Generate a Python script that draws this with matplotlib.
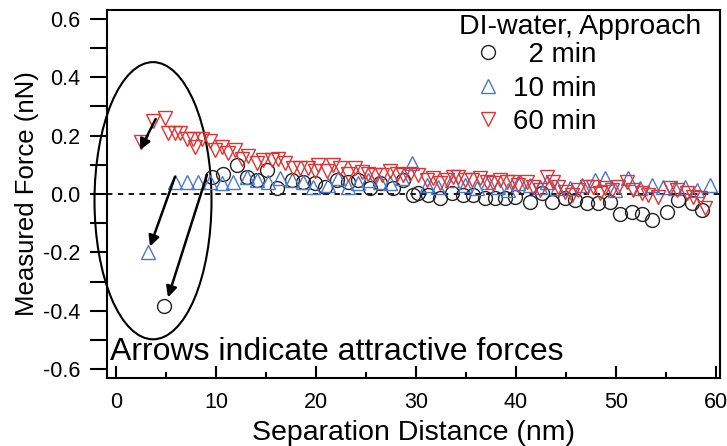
import matplotlib
matplotlib.use("Agg")
import matplotlib.pyplot as plt
from matplotlib.patches import Ellipse

plt.rcParams['font.family'] = ['Liberation Sans', 'DejaVu Sans']
plt.rcParams['axes.unicode_minus'] = False

# 2 min (circles)
x_2min = [4.8, 9.6, 10.7, 12.1, 13.1, 14.1, 15.1, 16.1, 17.6, 18.7, 19.9, 20.9, 22.1,
          23.2, 24.2, 25.4, 26.4, 27.7, 28.7, 29.7, 30.2, 31.2, 32.4, 33.6, 34.7, 35.7,
          36.9, 37.9, 38.9, 39.9, 41.4, 42.6, 43.6, 44.9, 45.9, 47.1, 48.2, 49.4, 50.4,
          51.6, 52.6, 53.6, 55.1, 56.2, 57.6, 58.6]
y_2min = [-0.385, 0.058, 0.07, 0.1, 0.058, 0.048, 0.082, 0.02, 0.048, 0.04, 0.037, 0.025,
          0.048, 0.04, 0.048, 0.02, 0.037, 0.02, 0.048, -0.003, 0.003, -0.003, -0.013,
          0.003, -0.003, -0.003, -0.013, -0.013, -0.013, -0.01, -0.027, 0.003, -0.027,
          -0.013, -0.02, -0.03, -0.03, -0.027, -0.07, -0.06, -0.07, -0.09, -0.06, -0.02,
          -0.03, -0.055]

# 10 min (up triangles)
x_10min = [3.2, 5.9, 7.1, 8.2, 9.4, 10.6, 11.7, 13.1, 14.1, 15.2, 16.4, 17.6, 18.7, 19.7,
           21.2, 22.2, 23.2, 24.2, 25.2, 26.4, 27.4, 28.6, 29.6, 31.1, 32.2, 33.6, 34.9,
           36.1, 37.2, 38.2, 39.2, 40.2, 41.4, 42.4, 43.1, 44.1, 45.4, 46.6, 47.9, 48.9,
           49.9, 51.2, 52.4, 53.6, 54.7, 55.9, 56.9, 58.1, 59.4]
y_10min = [-0.197, 0.04, 0.04, 0.04, 0.04, 0.037, 0.04, 0.058, 0.048, 0.04, 0.055, 0.048,
           0.04, 0.025, 0.03, 0.055, 0.025, 0.037, 0.048, 0.04, 0.037, 0.055, 0.105, 0.03,
           0.025, 0.048, 0.03, 0.02, 0.04, 0.025, 0.014, 0.037, 0.03, 0.025, 0.04, 0.02,
           0.02, 0.03, 0.048, 0.055, 0.014, 0.055, 0.02, 0.03, 0.025, 0.02, 0.025, 0.014,
           0.03]

# 60 min (down triangles)
x_60min = [2.5, 3.7, 4.9, 5.2, 5.9, 6.4, 7.1, 7.7, 7.9, 8.6, 9.4, 9.9, 10.6, 11.2, 11.9,
           12.6, 13.2, 14.1, 14.7, 15.6, 16.2, 16.9, 17.7, 18.4, 19.2, 19.9, 20.2, 21.1,
           21.7, 22.4, 23.2, 23.9, 24.6, 25.2, 25.9, 26.6, 27.4, 28.1, 28.7, 29.4, 30.2,
           31.1, 31.7, 32.4, 33.1, 33.7, 34.2, 34.9, 35.6, 36.4, 37.1, 37.7, 38.4, 39.1,
           39.7, 40.2, 41.1, 41.7, 42.4, 43.1, 43.7, 44.2, 44.9, 45.6, 46.2, 47.1, 47.7,
           48.4, 48.9, 49.6, 50.2, 51.1, 51.7, 52.6, 53.2, 54.2, 55.4, 56.1, 57.1, 57.7,
           58.4, 58.9]
y_60min = [0.178, 0.25, 0.26, 0.21, 0.21, 0.21, 0.19, 0.19, 0.16, 0.19, 0.18, 0.15, 0.16,
           0.14, 0.15, 0.12, 0.13, 0.105, 0.115, 0.115, 0.12, 0.105, 0.09, 0.09, 0.09, 0.08,
           0.1, 0.08, 0.1, 0.09, 0.07, 0.09, 0.075, 0.07, 0.065, 0.065, 0.08, 0.07, 0.065,
           0.07, 0.065, 0.048, 0.055, 0.037, 0.048, 0.058, 0.058, 0.048, 0.048, 0.055, 0.04,
           0.037, 0.048, 0.04, 0.04, 0.03, 0.04, 0.025, 0.014, 0.058, 0.04, 0.025, 0.007,
           -0.003, 0.014, 0.025, 0.025, 0.003, 0.02, 0.014, 0.025, 0.04, 0.014, 0.003,
           -0.003, -0.01, 0.02, 0.014, 0.003, -0.01, -0.013, -0.047]

# arrows: (start, end) pointing at the attractive points
arrows = [((3.97, 0.257), (2.4, 0.151)),
          ((5.9, 0.059), (3.4, -0.18)),
          ((9.1, 0.066), (5.2, -0.354))]

fig = plt.figure(figsize=(7.27, 4.46), dpi=100)
ax = fig.add_axes([107/727, 1 - 378/446, (720 - 107)/727, (378 - 10)/446])

ax.axhline(0, color='black', lw=1.3, ls=(0, (3, 3)), zorder=1)

ax.plot(x_2min, y_2min, ls='none', marker='o', ms=10, mfc='none', mec='#222222',
        mew=1.0, label='  2 min')
ax.plot(x_10min, y_10min, ls='none', marker='^', ms=10.5, mfc='none', mec='#4a78cf',
        mew=1.0, label='10 min')
ax.plot(x_60min, y_60min, ls='none', marker='v', ms=10.5, mfc='none', mec='#dd3333',
        mew=1.0, label='60 min')

for start, end in arrows:
    ax.annotate('', xy=end, xytext=start,
                arrowprops=dict(arrowstyle='-|>', color='black', lw=1.8,
                                mutation_scale=16, shrinkA=0, shrinkB=0))

ell = Ellipse((3.7, -0.023), 11.7, 0.949, fill=False, lw=1.5, ec='black', clip_on=False)
ax.add_patch(ell)

ax.text(0.005, -0.568, 'Arrows indicate attractive forces', fontsize=23, ha='left',
        va='baseline', transform=ax.get_yaxis_transform())

ax.set_xlim(-0.9, 60.4)
ax.set_ylim(-0.63, 0.63)
ax.set_xticks(range(0, 61, 10))
ax.set_xticks(range(5, 60, 10), minor=True)
ax.set_yticks([-0.6, -0.4, -0.2, 0.0, 0.2, 0.4, 0.6])
ax.set_yticks([-0.5, -0.3, -0.1, 0.1, 0.3, 0.5], minor=True)
ax.set_yticklabels(['-0.6', '-0.4', '-0.2', '0.0', '0.2', '0.4', '0.6'])

ax.tick_params(axis='x', which='major', direction='in', length=9, width=1.5,
               labelsize=15.5, pad=10)
ax.tick_params(axis='x', which='minor', direction='in', length=4, width=1.5)
ax.tick_params(axis='y', which='both', direction='out', length=12, width=1.5,
               labelsize=15.5, pad=7)
for s in ax.spines.values():
    s.set_linewidth(1.5)

ax.set_xlabel('Separation Distance (nm)', fontsize=20.5, labelpad=5)
ax.set_ylabel('Measured Force (nN)', fontsize=18.5, labelpad=3)

fig.text(459/727, 1 - 27/446, 'DI-water, Approach', fontsize=20.5, ha='left', va='center')
ax.legend(loc='upper left', bbox_to_anchor=(474/727, 1 - 42/446),
          bbox_transform=fig.transFigure, frameon=False, fontsize=20,
          handlelength=1.0, handletextpad=0.4, borderpad=0, labelspacing=0.27,
          borderaxespad=0)

fig.savefig('out.png', dpi=100)
